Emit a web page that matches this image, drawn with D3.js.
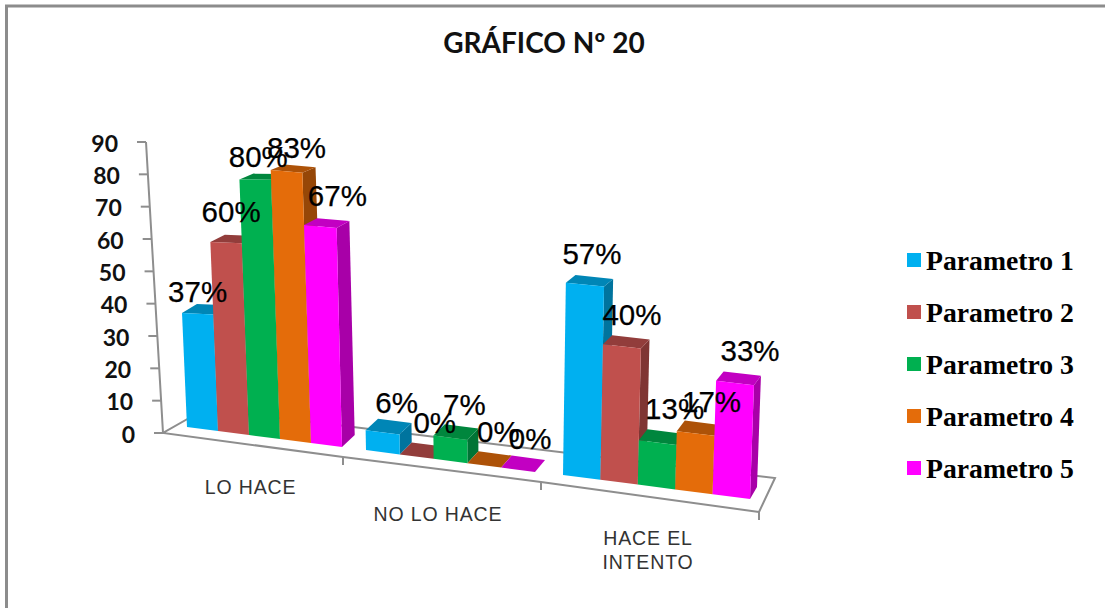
<!DOCTYPE html>
<html><head><meta charset="utf-8">
<script src="https://cdnjs.cloudflare.com/ajax/libs/d3/7.8.5/d3.min.js"></script>
<style>html,body{margin:0;padding:0;background:#fff}svg{display:block}</style>
</head><body><svg id="c" width="1105" height="608"></svg>
<script>
const title = "GRÁFICO Nº 20";
const categories = [["LO HACE"],["NO LO HACE"],["HACE EL","INTENTO"]];
const seriesNames = ["Parametro 1","Parametro 2","Parametro 3","Parametro 4","Parametro 5"];
const seriesColors = ["#00B0F0","#C0504D","#00B050","#E46C0A","#FF00FF"];
const parametro1 = [37,6,57];
const parametro2 = [60,0,40];
const parametro3 = [80,7,13];
const parametro4 = [83,0,17];
const parametro5 = [67,0,33];
const series = [parametro1,parametro2,parametro3,parametro4,parametro5];
const yTicks = [0,10,20,30,40,50,60,70,80,90];
// per-label nudges from the bar top, by category then series
const labelNudge = [
  [[0,-12],[5,-21],[3,-13],[10,-13],[17,-20]],
  [[14,-19],[18,-24],[14,-23],[14,-23],[12,-21]],
  [[7,-21],[10,-21],[17,-24],[16,-22],[15,-22]]
];

const svg = d3.select("#c");
const G = "#8e8e8e";

// frame
svg.append("path").attr("d", d3.line()([[6.5,608],[6.5,6],[1105,6]]))
  .attr("fill","none").attr("stroke","#8c8c8c").attr("stroke-width",3);

svg.append("text").attr("x",544).attr("y",53).attr("text-anchor","middle")
  .attr("font-family","Lato").attr("font-weight",700).attr("font-size",28).attr("fill","#111").text(title);

// projection scales (oblique, converging view)
const slotDomain = [0,5,6,11,12,17];
const slotX = d3.scaleLinear(slotDomain,[187,342,366,535,563,750]);
const slotY = d3.scaleLinear(slotDomain,[427,447,450,472,475,499]);
const unitPx = d3.scaleLinear([0,1,3,17],[3.08,3.15,3.24,3.45]);
const lean = d3.scaleLinear([0,4,5,12,17],[-0.135,-0.104,-0.08,0.05,0.12]);
const depthX = d3.scaleLinear([180,750],[15,7]);
const depthY = d3.scaleLinear([0,90],[12,5]);
const pt = (slot,v,d) => {
  const bx = slotX(slot);
  return [bx + lean(slot)*v + d*depthX(bx), slotY(slot) - unitPx(slot)*v - d*depthY(v)];
};

// value axis
const axisY = d3.scaleLinear([0,90],[433,142]);
const axisX = d3.scaleLinear([0,90],[163,146]);
// category axis along floor front
const frontX = d3.scaleLinear([0,1,2,3],[163,343,541,759]);
const frontY = d3.scaleLinear([0,1,2,3],[433,457,482,512]);
const backX = d3.scaleLinear([0,3],[205,775]);
const backY = d3.scaleLinear([0,3],[409,478]);
const idx = d3.range(0,4);
const axG = svg.append("g").attr("fill","none").attr("stroke",G).attr("stroke-width",2);
axG.append("path").attr("d", d3.line()([
  [backX(0),backY(0)],[backX(3),backY(3)],[frontX(3),frontY(3)]]));
axG.append("path").attr("d", d3.line()([[backX(0),backY(0)],...idx.map(i=>[frontX(i),frontY(i)])]));
axG.append("path").attr("d", d3.line()(yTicks.map(t=>[axisX(t),axisY(t)])));
yTicks.forEach(t=>axG.append("line").attr("x1",axisX(t)-9).attr("x2",axisX(t)).attr("y1",axisY(t)).attr("y2",axisY(t)));
idx.slice(1).forEach(i=>axG.append("line").attr("x1",frontX(i)).attr("x2",frontX(i)).attr("y1",frontY(i)).attr("y2",frontY(i)+8));

svg.append("g").selectAll("text").data(yTicks).join("text")
  .attr("x",t=>axisX(t)-28).attr("y",t=>axisY(t)+9.5).attr("text-anchor","end")
  .attr("font-family","Lato").attr("font-weight",700).attr("font-size",23).attr("fill","#111").text(t=>t);

// bars
const poly = pts => "M"+pts.map(p=>p.join(",")).join("L")+"Z";
const barsG = svg.append("g");
categories.forEach((c,g)=>{
  series.forEach((vals,i)=>{
    const v = vals[g], s0 = g*6+i, s1 = s0+1, col = d3.color(seriesColors[i]);
    const shade = k => { const r=d3.rgb(col); return d3.rgb(r.r*k,r.g*k,r.b*k).formatHex(); };
    const bar = barsG.append("g");
    if (v>0) bar.append("path").attr("d",poly([pt(s1,0,0),pt(s1,v,0),pt(s1,v,1),pt(s1,0,1)])).attr("fill",shade(0.66));
    bar.append("path").attr("d",poly([pt(s0,v,0),pt(s1,v,0),pt(s1,v,1),pt(s0,v,1)])).attr("fill",shade(0.76));
    if (v>0) bar.append("path").attr("d",poly([pt(s0,0,0),pt(s1,0,0),pt(s1,v,0),pt(s0,v,0)])).attr("fill",seriesColors[i]);
  });
});

// data labels
const lab = svg.append("g");
categories.forEach((c,g)=>series.forEach((vals,i)=>{
  const v = vals[g], p = pt(g*6+i+0.5,v,0), n = labelNudge[g][i];
  lab.append("text").attr("x",p[0]+n[0]).attr("y",p[1]+n[1]).attr("text-anchor","middle")
    .attr("font-family","Liberation Sans").attr("font-size",29.5).attr("fill","#000")
    .attr("stroke","#000").attr("stroke-width",0.25).text(v+"%");
}));

// category labels
const catX = d3.scaleLinear([0,1,2],[250.5,438,648]);
const catY = d3.scaleLinear([0,1,2],[494,521,545]);
categories.forEach((lines,g)=>lines.forEach((l,k)=>{
  svg.append("text").attr("x",catX(g)).attr("y",catY(g)+k*24).attr("text-anchor","middle")
    .attr("font-family","Liberation Sans").attr("font-size",19.5).attr("letter-spacing",0.85).attr("fill","#333").text(l);
}));

// legend
const legY = d3.scalePoint(seriesNames,[260,468]);
const leg = svg.append("g").selectAll("g").data(seriesNames).join("g");
leg.append("rect").attr("x",907).attr("y",d=>legY(d)-7).attr("width",14).attr("height",14)
  .attr("fill",(d,i)=>seriesColors[i]);
leg.append("text").attr("x",926).attr("y",d=>legY(d)+9.5)
  .attr("font-family","Liberation Serif").attr("font-weight",700).attr("font-size",27.7).attr("fill","#000").text(d=>d);
</script></body></html>
